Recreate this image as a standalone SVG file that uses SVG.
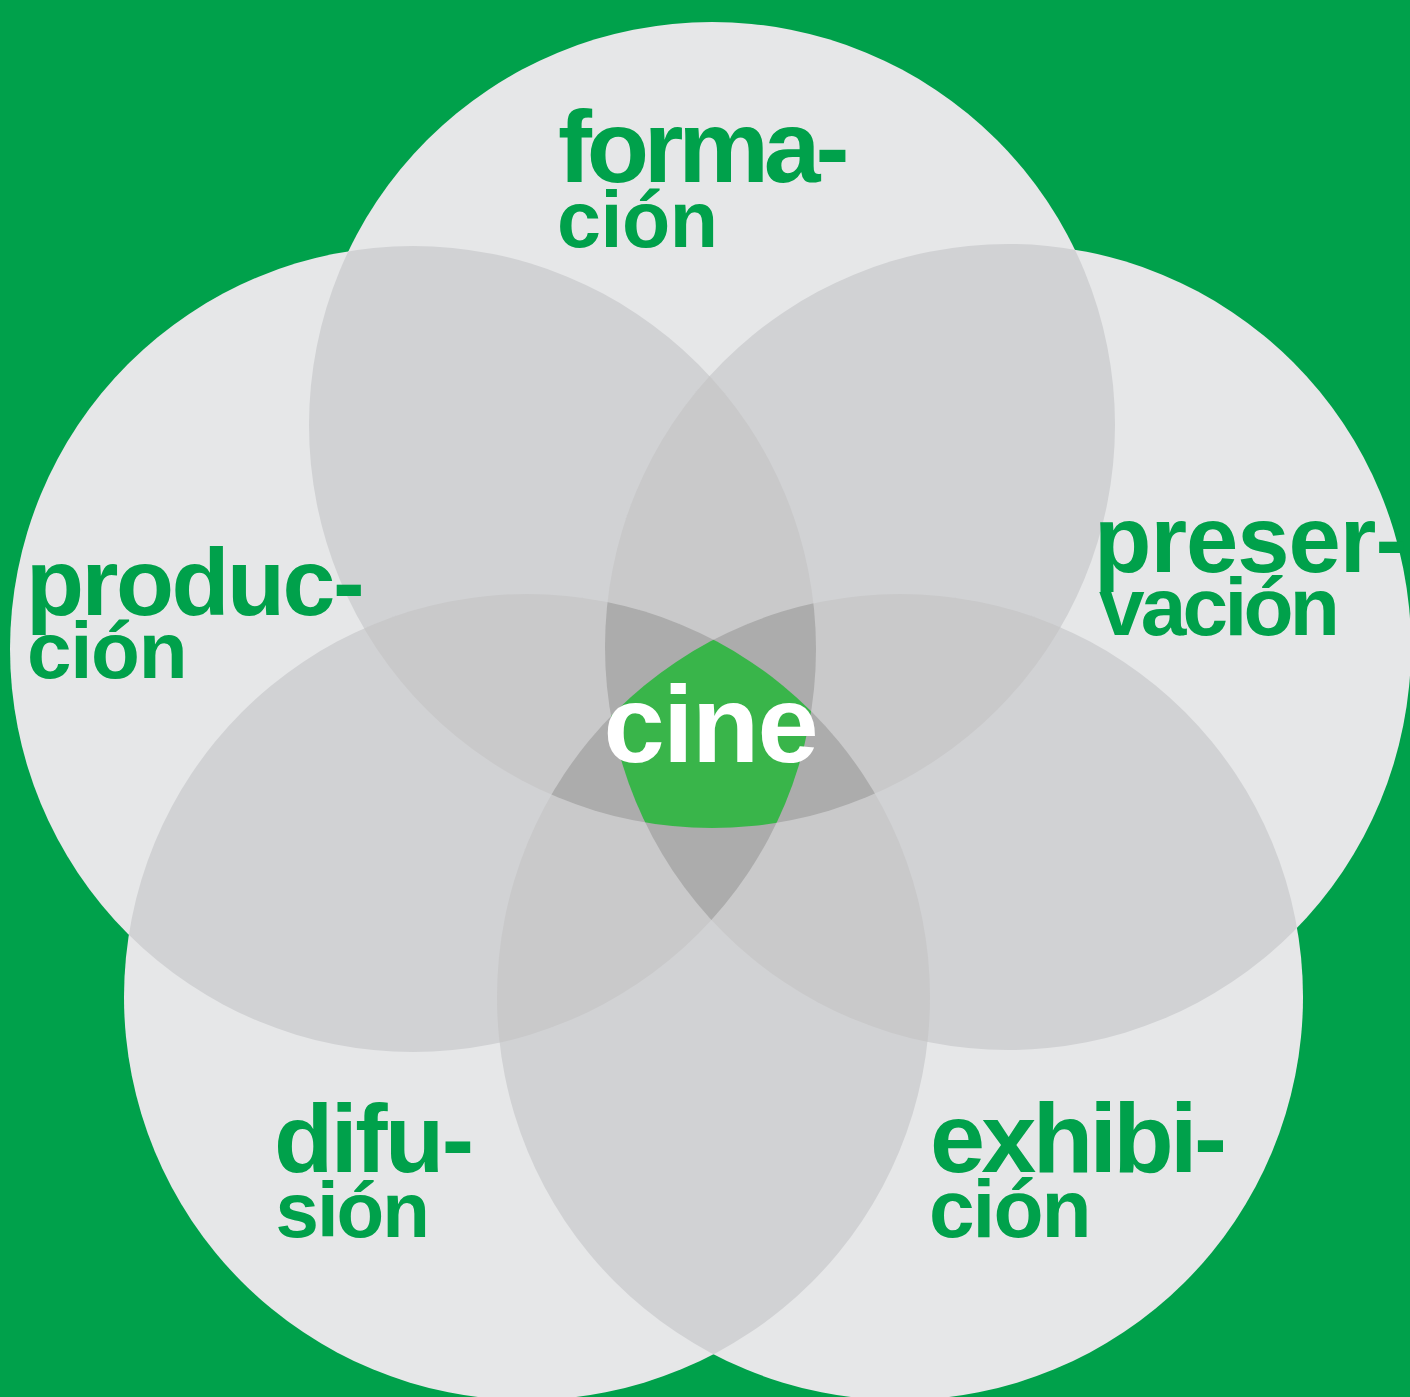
<svg xmlns="http://www.w3.org/2000/svg" xmlns:xlink="http://www.w3.org/1999/xlink" width="1410" height="1397" viewBox="0 0 1410 1397">
<style>
.lab{font-family:"Liberation Sans",Arial,Helvetica,sans-serif;font-weight:700;fill:#00A14B}
.cine{font-family:"Liberation Sans",Arial,Helvetica,sans-serif;font-weight:700;fill:#FFFFFF}
.c1{fill:#E6E7E8}
.c2{fill:#D1D2D4}
.c3{fill:#C9C9CA}
.c4{fill:#ACACAC}
.c5{fill:#39B54A}
</style>
<defs>
<circle id="T" cx="712" cy="425" r="403"/>
<circle id="L" cx="413" cy="649" r="403"/>
<circle id="R" cx="1008" cy="647" r="403"/>
<circle id="BL" cx="527" cy="997" r="403"/>
<circle id="BR" cx="900" cy="997" r="403"/>
<clipPath id="kT"><use xlink:href="#T"/></clipPath>
<clipPath id="kL"><use xlink:href="#L"/></clipPath>
<clipPath id="kR"><use xlink:href="#R"/></clipPath>
<clipPath id="kBL"><use xlink:href="#BL"/></clipPath>
<clipPath id="kBR"><use xlink:href="#BR"/></clipPath>
</defs>
<rect x="0" y="0" width="1410" height="1397" fill="#00A14B"/>
<g id="circles" class="c1">
<g id="circle-formacion"><use xlink:href="#T"/></g>
<g id="circle-produccion"><use xlink:href="#L"/></g>
<g id="circle-preservacion"><use xlink:href="#R"/></g>
<g id="circle-difusion"><use xlink:href="#BL"/></g>
<g id="circle-exhibicion"><use xlink:href="#BR"/></g>
</g>
<g id="overlap2" class="c2">
<g clip-path="url(#kL)"><use xlink:href="#T"/></g>
<g clip-path="url(#kR)"><use xlink:href="#T"/></g>
<g clip-path="url(#kBL)"><use xlink:href="#T"/></g>
<g clip-path="url(#kBR)"><use xlink:href="#T"/></g>
<g clip-path="url(#kR)"><use xlink:href="#L"/></g>
<g clip-path="url(#kBL)"><use xlink:href="#L"/></g>
<g clip-path="url(#kBR)"><use xlink:href="#L"/></g>
<g clip-path="url(#kBL)"><use xlink:href="#R"/></g>
<g clip-path="url(#kBR)"><use xlink:href="#R"/></g>
<g clip-path="url(#kBR)"><use xlink:href="#BL"/></g>
</g>
<g id="overlap3" class="c3">
<g clip-path="url(#kL)"><g clip-path="url(#kR)"><use xlink:href="#T"/></g></g>
<g clip-path="url(#kL)"><g clip-path="url(#kBL)"><use xlink:href="#T"/></g></g>
<g clip-path="url(#kL)"><g clip-path="url(#kBR)"><use xlink:href="#T"/></g></g>
<g clip-path="url(#kR)"><g clip-path="url(#kBL)"><use xlink:href="#T"/></g></g>
<g clip-path="url(#kR)"><g clip-path="url(#kBR)"><use xlink:href="#T"/></g></g>
<g clip-path="url(#kBL)"><g clip-path="url(#kBR)"><use xlink:href="#T"/></g></g>
<g clip-path="url(#kR)"><g clip-path="url(#kBL)"><use xlink:href="#L"/></g></g>
<g clip-path="url(#kR)"><g clip-path="url(#kBR)"><use xlink:href="#L"/></g></g>
<g clip-path="url(#kBL)"><g clip-path="url(#kBR)"><use xlink:href="#L"/></g></g>
<g clip-path="url(#kBL)"><g clip-path="url(#kBR)"><use xlink:href="#R"/></g></g>
</g>
<g id="overlap4" class="c4">
<g clip-path="url(#kR)"><g clip-path="url(#kBL)"><g clip-path="url(#kBR)"><use xlink:href="#L"/></g></g></g>
<g clip-path="url(#kR)"><g clip-path="url(#kBL)"><g clip-path="url(#kBR)"><use xlink:href="#T"/></g></g></g>
<g clip-path="url(#kL)"><g clip-path="url(#kBL)"><g clip-path="url(#kBR)"><use xlink:href="#T"/></g></g></g>
<g clip-path="url(#kL)"><g clip-path="url(#kR)"><g clip-path="url(#kBR)"><use xlink:href="#T"/></g></g></g>
<g clip-path="url(#kL)"><g clip-path="url(#kR)"><g clip-path="url(#kBL)"><use xlink:href="#T"/></g></g></g>
</g>
<g id="center" class="c5">
<g clip-path="url(#kL)"><g clip-path="url(#kR)"><g clip-path="url(#kBL)"><g clip-path="url(#kBR)"><use xlink:href="#T"/></g></g></g></g>
</g>
<g id="node-formacion">
<text class="lab" x="558" y="182" font-size="102" letter-spacing="-5.2">forma-</text>
<text class="lab" x="557" y="247" font-size="79" letter-spacing="-0.5">ción</text>
</g>
<g id="node-produccion">
<text class="lab" x="26" y="615" font-size="95" letter-spacing="-2.5">produc-</text>
<text class="lab" x="27" y="678" font-size="80" letter-spacing="-1.3">ción</text>
</g>
<g id="node-preservacion">
<text class="lab" x="1094" y="572" font-size="94" letter-spacing="-1">preser-</text>
<text class="lab" x="1099" y="635" font-size="82" letter-spacing="-3.8">vación</text>
</g>
<g id="node-difusion">
<text class="lab" x="274" y="1172" font-size="97" letter-spacing="-2.5">difu-</text>
<text class="lab" x="275.5" y="1237" font-size="78" letter-spacing="-2">sión</text>
</g>
<g id="node-exhibicion">
<text class="lab" x="930" y="1172" font-size="99" letter-spacing="-3.7">exhibi-</text>
<text class="lab" x="929" y="1237" font-size="82" letter-spacing="-2">ción</text>
</g>
<g id="node-cine">
<text class="cine" x="603.6" y="762" font-size="110" letter-spacing="-1.7">cine</text>
</g>
<g id="connectors"/>
</svg>
